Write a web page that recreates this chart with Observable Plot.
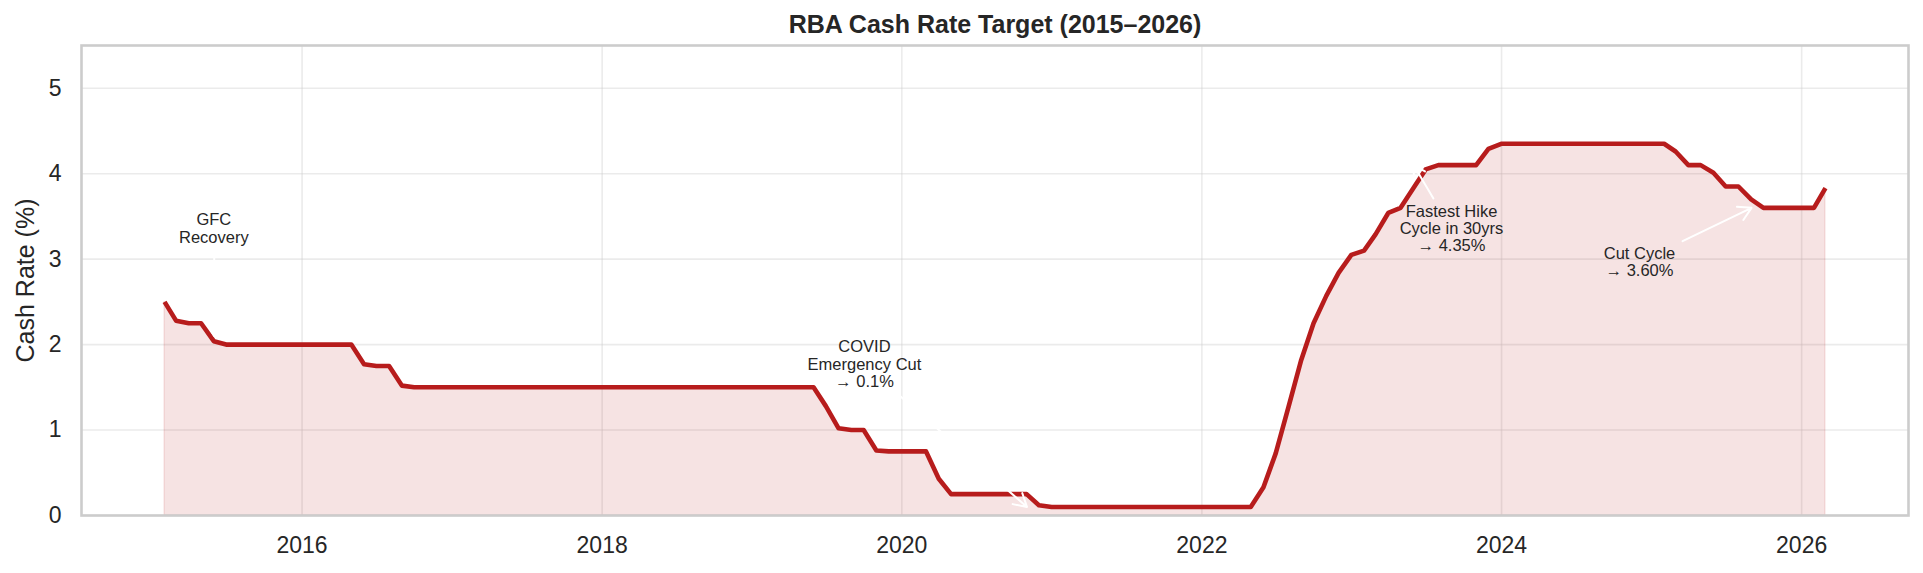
<!DOCTYPE html>
<html>
<head>
<meta charset="utf-8">
<script src="https://cdn.jsdelivr.net/npm/d3@7"></script>
<script src="https://cdn.jsdelivr.net/npm/@observablehq/plot@0.6"></script>
<style>
  html, body { margin: 0; padding: 0; background: #ffffff; overflow: hidden; }
  #chart svg { display: block; }
</style>
</head>
<body>
<div id="chart"></div>
<script>
// ---- Data (monthly average cash rate, one value per month, plotted at month end) ----
const startMonth = "2015-01";
const rates2015 = [2.50, 2.28, 2.25, 2.25, 2.04, 2.00, 2.00, 2.00, 2.00, 2.00, 2.00, 2.00];
const rates2016 = [2.00, 2.00, 2.00, 2.00, 1.77, 1.75, 1.75, 1.52, 1.50, 1.50, 1.50, 1.50];
const rates2017 = [1.50, 1.50, 1.50, 1.50, 1.50, 1.50, 1.50, 1.50, 1.50, 1.50, 1.50, 1.50];
const rates2018 = [1.50, 1.50, 1.50, 1.50, 1.50, 1.50, 1.50, 1.50, 1.50, 1.50, 1.50, 1.50];
const rates2019 = [1.50, 1.50, 1.50, 1.50, 1.50, 1.28, 1.02, 1.00, 1.00, 0.76, 0.75, 0.75];
const rates2020 = [0.75, 0.75, 0.43, 0.25, 0.25, 0.25, 0.25, 0.25, 0.25, 0.25, 0.12, 0.10];
const rates2021 = [0.10, 0.10, 0.10, 0.10, 0.10, 0.10, 0.10, 0.10, 0.10, 0.10, 0.10, 0.10];
const rates2022 = [0.10, 0.10, 0.10, 0.10, 0.33, 0.73, 1.27, 1.82, 2.25, 2.57, 2.84, 3.05];
const rates2023 = [3.10, 3.29, 3.54, 3.60, 3.83, 4.05, 4.10, 4.10, 4.10, 4.10, 4.29, 4.35];
const rates2024 = [4.35, 4.35, 4.35, 4.35, 4.35, 4.35, 4.35, 4.35, 4.35, 4.35, 4.35, 4.35];
const rates2025 = [4.35, 4.26, 4.10, 4.10, 4.01, 3.85, 3.85, 3.70, 3.60, 3.60, 3.60, 3.60];
const rates2026 = [3.60, 3.83];

const xTickYears = [2016, 2018, 2020, 2022, 2024, 2026];
const yTicks = [0, 1, 2, 3, 4, 5];

const titleText = "RBA Cash Rate Target (2015\u20132026)";
const yLabelText = "Cash Rate (%)";

// annotations: text position, arrow tail, arrow head
const annLabels  = ["GFC\nRecovery", "COVID\nEmergency Cut\n\u2192 0.1%", "Fastest Hike\nCycle in 30yrs\n\u2192 4.35%", "Cut Cycle\n\u2192 3.60%"];
const annTextAt  = ["2015-05-31", "2019-10-02", "2023-09-01", "2024-12-02"];
const annTextVal = [3.36, 1.77, 3.36, 2.97];
const annTailAt  = ["2015-06-01", "2019-12-13", "2023-07-19", "2025-03-17"];
const annTailVal = [3.10, 1.46, 3.71, 3.21];
const annHeadAt  = ["2015-06-01", "2020-11-01", "2023-06-01", "2025-09-01"];
const annHeadVal = [2.10, 0.10, 4.10, 3.60];

// ---- Build tables ----
const allRates = [].concat(rates2015, rates2016, rates2017, rates2018, rates2019, rates2020,
                           rates2021, rates2022, rates2023, rates2024, rates2025, rates2026);
const m0 = new Date(startMonth + "-01T00:00:00Z");
const series = allRates.map((r, i) => ({
  date: d3.utcDay.offset(d3.utcMonth.offset(m0, i + 1), -1),
  rate: r
}));
const t0 = +series[0].date, t1 = +series[series.length - 1].date;
const pad = 0.05 * (t1 - t0);
const xDomain = [new Date(t0 - pad), new Date(t1 + pad)];
const xTicks = xTickYears.map(y => new Date(Date.UTC(y, 0, 1)));

const pd = s => new Date(s + "T00:00:00Z");
const annText = annLabels.map((t, i) => ({text: t, x: pd(annTextAt[i]), y: annTextVal[i]}));
const annArrows = annLabels.map((t, i) => ({
  x1: pd(annTailAt[i]), y1: annTailVal[i], x2: pd(annHeadAt[i]), y2: annHeadVal[i]
}));

const red = "#b71c1c";
const ink = "#262626";

const chart = Plot.plot({
  width: 1923,
  height: 573,
  marginLeft: 81,
  marginRight: 15,
  marginTop: 45,
  marginBottom: 58,
  style: {
    fontFamily: "'Liberation Sans', Arial, Helvetica, sans-serif",
    fontSize: "23px",
    color: ink,
    background: "#ffffff"
  },
  x: {type: "utc", domain: xDomain},
  y: {domain: [0, 5.5]},
  marks: [
    Plot.gridX(xTicks, {stroke: "#cccccc", strokeOpacity: 0.4, strokeWidth: 1.6}),
    Plot.gridY(yTicks, {stroke: "#cccccc", strokeOpacity: 0.4, strokeWidth: 1.6}),
    Plot.areaY(series, {x: "date", y: "rate", fill: red, fillOpacity: 0.12,
                        stroke: red, strokeOpacity: 0.12, strokeWidth: 1.2}),
    Plot.lineY(series, {x: "date", y: "rate", stroke: red, strokeWidth: 4.6,
                        strokeLinejoin: "round", strokeLinecap: "butt"}),
    Plot.frame({stroke: "#cccccc", strokeWidth: 2.6}),
    Plot.axisX(xTicks, {tickSize: 0, tickPadding: 21, tickFormat: d3.utcFormat("%Y"), label: null}),
    Plot.axisY(yTicks, {tickSize: 0, tickPadding: 20, tickFormat: d3.format("d"), label: null}),
    Plot.arrow(annArrows, {x1: "x1", y1: "y1", x2: "x2", y2: "y2",
                           stroke: "#ffffff", strokeWidth: 2, headLength: 11}),
    Plot.text(annText, {x: "x", y: "y", text: "text", fontSize: 16.5, lineHeight: 1.05,
                        fill: ink, textAnchor: "middle", lineAnchor: "middle"}),
    Plot.text([titleText], {frameAnchor: "top", dy: -21, fontSize: 25, fontWeight: "bold",
                            fill: ink, lineAnchor: "middle"}),
    Plot.text([yLabelText], {frameAnchor: "left", dx: -56, rotate: -90, fontSize: 25,
                             fill: ink, lineAnchor: "middle", textAnchor: "middle"})
  ]
});
document.getElementById("chart").appendChild(chart);
</script>
</body>
</html>
